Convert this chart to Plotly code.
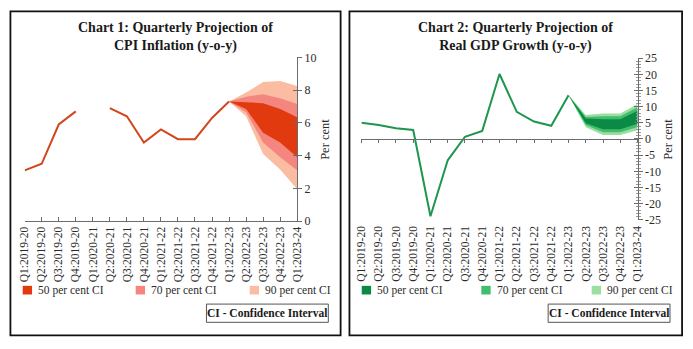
import plotly.graph_objects as go

W, H = 693, 349

quarters = ["Q1:2019-20", "Q2:2019-20", "Q3:2019-20", "Q4:2019-20",
            "Q1:2020-21", "Q2:2020-21", "Q3:2020-21", "Q4:2020-21",
            "Q1:2021-22", "Q2:2021-22", "Q3:2021-22", "Q4:2021-22",
            "Q1:2022-23", "Q2:2022-23", "Q3:2022-23", "Q4:2022-23",
            "Q1:2023-24"]
fan_quarters = quarters[12:]

# CPI inflation, actual (Q1:2020-21 not available)
cpi_actual = [3.1, 3.5, 5.9, 6.7, None, 6.9, 6.4, 4.8, 5.6, 5.0, 5.0, 6.3, 7.3]
cpi_90_upper = [7.3, 7.85, 8.5, 8.55, 8.25]
cpi_90_lower = [7.3, 6.4, 4.1, 3.15, 1.95]
cpi_70_upper = [7.3, 7.6, 7.75, 7.5, 7.15]
cpi_70_lower = [7.3, 6.65, 4.8, 3.9, 3.1]
cpi_50_upper = [7.3, 7.25, 7.2, 6.85, 6.35]
cpi_50_lower = [7.3, 6.85, 5.4, 4.8, 3.9]

# Real GDP growth, actual
gdp_actual = [5.0, 4.3, 3.3, 2.8, -23.9, -6.6, 0.7, 2.5, 20.1, 8.4, 5.4, 4.1, 13.5]
gdp_90_upper = [13.5, 7.4, 7.9, 7.9, 10.8]
gdp_90_lower = [13.5, 3.6, 1.2, 1.2, 2.7]
gdp_70_upper = [13.5, 6.8, 7.0, 7.0, 9.8]
gdp_70_lower = [13.5, 4.3, 2.1, 2.1, 3.7]
gdp_50_upper = [13.5, 6.3, 6.1, 6.1, 8.7]
gdp_50_lower = [13.5, 4.9, 3.0, 3.0, 4.7]

cpi_ticks = [0, 2, 4, 6, 8, 10]
gdp_ticks = [25, 20, 15, 10, 5, 0, -5, -10, -15, -20, -25]

band_labels = ["50 per cent CI", "70 per cent CI", "90 per cent CI"]
cpi_colors = {"line": "#D2461E", "50": "#E03A0E", "70": "#F5857F", "90": "#FBBDA2"}
gdp_colors = {"line": "#1E9650", "50": "#0B8A45", "70": "#42BD6E", "90": "#9ADF9F"}

SERIF = "Liberation Serif"
TXT = "#2b2b2b"
AX = "#6d6d6d"


def px(x):
    return x / W


def py(y):
    return 1 - y / H


fig = go.Figure()


def add_fan(xref, yref, bands, colors):
    for key, (up, lo) in bands:
        fig.add_trace(go.Scatter(x=fan_quarters, y=up, mode="lines", line=dict(width=0),
                                 xaxis=xref, yaxis=yref, showlegend=False, hoverinfo="skip"))
        fig.add_trace(go.Scatter(x=fan_quarters, y=lo, mode="lines", line=dict(width=0),
                                 fill="tonexty", fillcolor=colors[key],
                                 xaxis=xref, yaxis=yref, showlegend=False, hoverinfo="skip"))


# Chart 1: CPI inflation
add_fan("x", "y", [("90", (cpi_90_upper, cpi_90_lower)),
                   ("70", (cpi_70_upper, cpi_70_lower)),
                   ("50", (cpi_50_upper, cpi_50_lower))], cpi_colors)
fig.add_trace(go.Scatter(x=quarters[:len(cpi_actual)], y=cpi_actual, mode="lines",
                         line=dict(color=cpi_colors["line"], width=2), connectgaps=False,
                         xaxis="x", yaxis="y", showlegend=False))
fig.add_trace(go.Scatter(x=quarters[:len(cpi_actual)], y=cpi_actual, mode="lines", opacity=0,
                         xaxis="x", yaxis="y3", showlegend=False, hoverinfo="skip"))

# Chart 2: real GDP growth
add_fan("x2", "y2", [("90", (gdp_90_upper, gdp_90_lower)),
                     ("70", (gdp_70_upper, gdp_70_lower)),
                     ("50", (gdp_50_upper, gdp_50_lower))], gdp_colors)
fig.add_trace(go.Scatter(x=quarters[:len(gdp_actual)], y=gdp_actual, mode="lines",
                         line=dict(color=gdp_colors["line"], width=2),
                         xaxis="x2", yaxis="y2", showlegend=False))
fig.add_trace(go.Scatter(x=quarters[:len(gdp_actual)], y=gdp_actual, mode="lines", opacity=0,
                         xaxis="x3", yaxis="y4", showlegend=False, hoverinfo="skip"))

tickfont = dict(family=SERIF, size=11.5, color=TXT)
ytickfont = dict(family=SERIF, size=12, color=TXT)

# plot-area geometry (pixels)
c1_x0, c1_x1, c1_ytop, c1_ybot = 19, 296.3, 52.5, 223
c2_x0, c2_x1, c2_ytop, c2_ybot = 361.7, 642.7, 53.3, 221.7
g_lo, g_hi = min(gdp_ticks), max(gdp_ticks)
zero_frac = (0 - g_lo) / (g_hi - g_lo)
c2_dom = [py(c2_ybot), py(c2_ytop)]
zero_pos = c2_dom[0] + zero_frac * (c2_dom[1] - c2_dom[0])

cat_axis = dict(type="category", categoryarray=quarters, range=[0, len(quarters) - 1],
                tickangle=-90, tickfont=tickfont, showgrid=False, zeroline=False)

fig.update_layout(
    width=W, height=H, margin=dict(l=0, r=0, t=0, b=0),
    paper_bgcolor="white", plot_bgcolor="rgba(0,0,0,0)",
    showlegend=False,
    xaxis=dict(cat_axis, domain=[px(c1_x0), px(c1_x1)], anchor="y",
               showline=True, linecolor=AX, linewidth=1,
               ticks="inside", ticklen=4, tickcolor=AX),
    yaxis=dict(domain=[py(c1_ybot), py(c1_ytop)], anchor="x", side="right",
               range=[min(cpi_ticks), max(cpi_ticks)], tickvals=cpi_ticks,
               ticktext=[str(v) for v in cpi_ticks],
               showline=True, linecolor=AX, linewidth=1, showgrid=False, zeroline=False,
               ticks="outside", ticklen=4, tickcolor=AX, tickfont=ytickfont),
    yaxis3=dict(overlaying="y", anchor="x", side="right",
                range=[min(cpi_ticks), max(cpi_ticks)], tickvals=cpi_ticks,
                showticklabels=False, showline=False, showgrid=False, zeroline=False,
                ticks="inside", ticklen=4, tickcolor=AX),
    xaxis2=dict(cat_axis, domain=[px(c2_x0), px(c2_x1)], anchor="y2",
                showline=False, ticks="", ticklabelstandoff=3),
    xaxis3=dict(type="category", categoryarray=quarters, range=[0, len(quarters) - 1],
                overlaying="x2", anchor="free", position=zero_pos,
                showline=True, linecolor=AX, linewidth=1, showgrid=False, zeroline=False,
                ticks="outside", ticklen=3, tickcolor=AX, showticklabels=False),
    yaxis2=dict(domain=c2_dom, anchor="x2", side="right",
                range=[g_lo, g_hi], tickvals=gdp_ticks, ticktext=[str(v) for v in gdp_ticks],
                showline=True, linecolor=AX, linewidth=1, showgrid=False, zeroline=False,
                ticks="outside", ticklen=4, tickcolor=AX,
                minor=dict(dtick=1, tick0=0, ticks="outside", ticklen=2, tickcolor="#9a9a9a"),
                tickfont=ytickfont),
    yaxis4=dict(overlaying="y2", anchor="x2", side="right",
                range=[g_lo, g_hi], tickvals=gdp_ticks,
                showticklabels=False, showline=False, showgrid=False, zeroline=False,
                ticks="inside", ticklen=4, tickcolor=AX,
                minor=dict(dtick=1, tick0=0, ticks="inside", ticklen=2, tickcolor="#9a9a9a")),
)

shapes = []
annotations = []

# panel frames
for x0, x1 in [(4.5, 340.5), (349.5, 688)]:
    shapes.append(dict(type="rect", xref="paper", yref="paper",
                       x0=px(x0), x1=px(x1), y0=py(342), y1=py(4.5),
                       line=dict(color="#111111", width=1.8), fillcolor="rgba(0,0,0,0)"))

titles = [("Chart 1: Quarterly Projection of<br>CPI Inflation (y-o-y)", 172),
          ("Chart 2: Quarterly Projection of<br>Real GDP Growth (y-o-y)", 518)]
for text, cx in titles:
    annotations.append(dict(text="<b>" + text + "</b>", xref="paper", yref="paper",
                            x=px(cx), y=py(31), xanchor="center", yanchor="middle",
                            showarrow=False, align="center",
                            font=dict(family=SERIF, size=14, color="#1a1a1a")))

# "Per cent" axis labels
for cx in (325, 674):
    annotations.append(dict(text="Per cent", xref="paper", yref="paper", x=px(cx), y=py(138),
                            xanchor="center", yanchor="middle", textangle=-90, showarrow=False,
                            font=dict(family=SERIF, size=12.5, color=TXT)))

# legends
legends = [([17, 132, 248], cpi_colors, 0), ([362, 483.7, 596], gdp_colors, 347.7)]
for xs, colors, offset in legends:
    for lx, lab, key in zip(xs, band_labels, ["50", "70", "90"]):
        shapes.append(dict(type="rect", xref="paper", yref="paper",
                           x0=px(lx), x1=px(lx + 9.5),
                           y0=py(299.5), y1=py(290.5),
                           line=dict(width=0), fillcolor=colors[key]))
        annotations.append(dict(text=lab, xref="paper", yref="paper",
                                x=px(lx + 13.5), y=py(295), xanchor="left", yanchor="middle",
                                showarrow=False, font=dict(family=SERIF, size=11.5, color=TXT)))
    shapes.append(dict(type="rect", xref="paper", yref="paper",
                       x0=px(204 + offset), x1=px(328 + offset), y0=py(328.5), y1=py(309.5),
                       line=dict(color="#555555", width=1), fillcolor="white"))
    annotations.append(dict(text="<b>CI - Confidence Interval</b>", xref="paper", yref="paper",
                            x=px(266 + offset), y=py(319), xanchor="center", yanchor="middle",
                            showarrow=False, font=dict(family=SERIF, size=11.5, color="#1a1a1a")))

fig.update_layout(shapes=shapes, annotations=annotations)

fig.write_html("out.html")
